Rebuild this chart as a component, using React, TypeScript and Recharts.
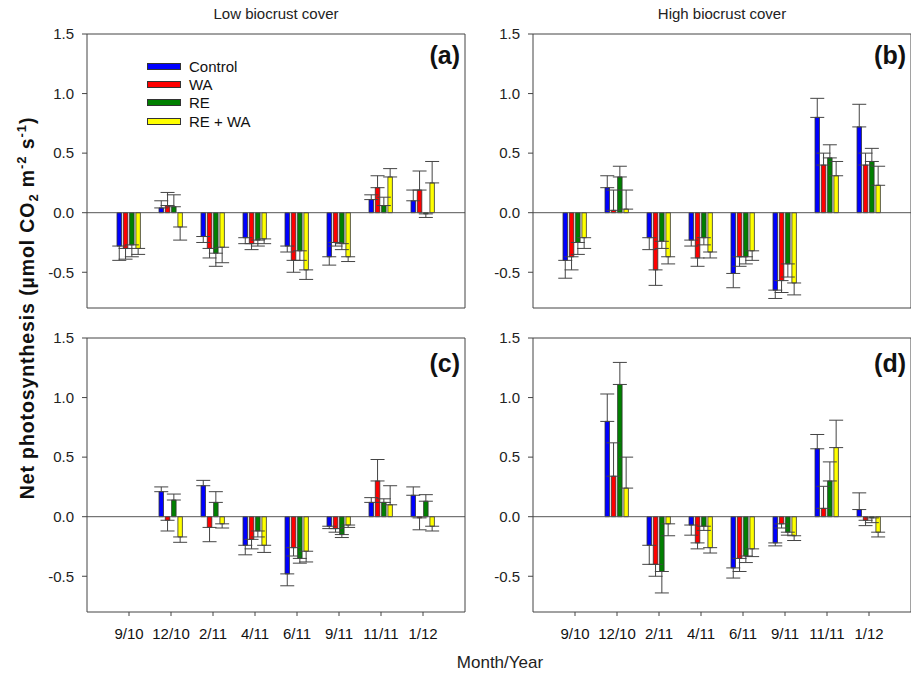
import { BarChart, Bar, XAxis, YAxis, ErrorBar, ReferenceLine, Legend } from 'recharts';

const months = ['9/10', '12/10', '2/11', '4/11', '6/11', '9/11', '11/11', '1/12'];
const yTicks = [-0.5, 0, 0.5, 1.0, 1.5];

// (a) low biocrust cover, top row
const aControl = [-0.28, 0.04, -0.20, -0.21, -0.28, -0.37, 0.11, 0.10];
const aControlSe = [0.12, 0.06, 0.05, 0.05, 0.05, 0.07, 0.04, 0.09];
const aWa = [-0.30, 0.06, -0.30, -0.26, -0.40, -0.25, 0.21, 0.19];
const aWaSe = [0.09, 0.11, 0.08, 0.05, 0.10, 0.03, 0.10, 0.16];
const aRe = [-0.27, 0.05, -0.34, -0.23, -0.32, -0.26, 0.06, -0.01];
const aReSe = [0.10, 0.10, 0.11, 0.05, 0.08, 0.05, 0.07, 0.03];
const aReWa = [-0.30, -0.12, -0.29, -0.22, -0.48, -0.37, 0.30, 0.25];
const aReWaSe = [0.05, 0.11, 0.13, 0.04, 0.08, 0.04, 0.07, 0.18];

// (b) high biocrust cover, top row
const bControl = [-0.40, 0.21, -0.21, -0.23, -0.51, -0.65, 0.80, 0.72];
const bControlSe = [0.15, 0.10, 0.10, 0.05, 0.12, 0.07, 0.16, 0.19];
const bWa = [-0.37, 0.02, -0.48, -0.38, -0.37, -0.57, 0.40, 0.40];
const bWaSe = [0.11, 0.17, 0.13, 0.07, 0.08, 0.10, 0.10, 0.10];
const bRe = [-0.25, 0.30, -0.24, -0.21, -0.37, -0.43, 0.46, 0.43];
const bReSe = [0.10, 0.09, 0.06, 0.06, 0.06, 0.11, 0.11, 0.11];
const bReWa = [-0.21, 0.03, -0.37, -0.33, -0.32, -0.59, 0.31, 0.23];
const bReWaSe = [0.09, 0.16, 0.06, 0.05, 0.08, 0.10, 0.12, 0.16];

// (c) low biocrust cover, bottom row (no data for 9/10)
const cControl = [null, 0.21, 0.26, -0.24, -0.48, -0.08, 0.12, 0.18];
const cControlSe = [null, 0.04, 0.045, 0.08, 0.10, 0.02, 0.04, 0.07];
const cWa = [null, -0.03, -0.09, -0.19, -0.26, -0.10, 0.30, -0.01];
const cWaSe = [null, 0.09, 0.12, 0.08, 0.07, 0.03, 0.18, 0.10];
const cRe = [null, 0.14, 0.12, -0.12, -0.35, -0.15, 0.12, 0.13];
const cReSe = [null, 0.05, 0.09, 0.05, 0.04, 0.025, 0.03, 0.055];
const cReWa = [null, -0.17, -0.06, -0.24, -0.29, -0.07, 0.10, -0.08];
const cReWaSe = [null, 0.045, 0.035, 0.06, 0.09, 0.02, 0.16, 0.04];

// (d) high biocrust cover, bottom row
const dControl = [null, 0.80, -0.24, -0.07, -0.43, -0.22, 0.57, 0.06];
const dControlSe = [null, 0.23, 0.16, 0.085, 0.085, 0.025, 0.12, 0.14];
const dWa = [null, 0.34, -0.40, -0.22, -0.35, -0.06, 0.07, -0.03];
const dWaSe = [null, 0.28, 0.10, 0.05, 0.11, 0.035, 0.185, 0.045];
const dRe = [null, 1.11, -0.46, -0.08, -0.33, -0.13, 0.30, -0.01];
const dReSe = [null, 0.185, 0.18, 0.035, 0.055, 0.025, 0.16, 0.04];
const dReWa = [null, 0.24, -0.06, -0.26, -0.27, -0.16, 0.58, -0.13];
const dReWaSe = [null, 0.26, 0.10, 0.045, 0.065, 0.04, 0.23, 0.04];

const SERIES = [
  { key: 'control', name: 'Control', color: '#0000ff' },
  { key: 'wa', name: 'WA', color: '#ff0000' },
  { key: 're', name: 'RE', color: '#008000' },
  { key: 'rewa', name: 'RE + WA', color: '#ffff00' },
];

const FONT = '"Liberation Sans", Arial, sans-serif';
const AXIS = '#444';

type Num = number | null;

// error bars only go outward from the bar end
function rows(vals: Num[][], errs: Num[][]) {
  return months.map((m, i) => {
    const row: any = { month: m };
    SERIES.forEach((s, k) => {
      const v = vals[k][i];
      const e = errs[k][i];
      row[s.key] = v;
      row[s.key + 'Se'] = v == null || e == null ? null : v >= 0 ? [0, e] : [e, 0];
    });
    return row;
  });
}

const LegendBox = () => (
  <div style={{ fontFamily: FONT, fontSize: 15, color: '#111' }}>
    {SERIES.map(s => (
      <div key={s.key} style={{ display: 'flex', alignItems: 'center', height: 18.3 }}>
        <span style={{ display: 'inline-block', width: 32, height: 5, background: s.color, border: '1px solid #333', marginRight: 8 }} />
        <span>{s.name}</span>
      </div>
    ))}
  </div>
);

function Panel({ data, left, top, tag, tagTop, labels, legend }: any) {
  return (
    <div style={{ position: 'absolute', left, top, width: 448, height: 319 }}>
      <BarChart width={448} height={319} data={data} margin={{ top: 9, right: 9, bottom: 0, left: 0 }} barSize={4.5} barGap={1.8}>
        <XAxis
          dataKey="month"
          height={35}
          padding={{ left: 21, right: 21 }}
          axisLine={{ stroke: AXIS }}
          tickLine={{ stroke: AXIS }}
          tickSize={4}
          tickMargin={12}
          tick={labels ? { fill: '#111', fontSize: 15, fontFamily: FONT } : false}
          interval={0}
        />
        <XAxis xAxisId="top" dataKey="month" orientation="top" height={1} tick={false} tickLine={false} axisLine={{ stroke: AXIS }} />
        <YAxis
          width={60}
          domain={[-0.8, 1.5]}
          ticks={yTicks}
          allowDataOverflow
          axisLine={{ stroke: AXIS }}
          tickLine={{ stroke: AXIS }}
          tickSize={5}
          tickMargin={8}
          tickFormatter={(v: number) => v.toFixed(1)}
          tick={{ fill: '#222', fontSize: 15, fontFamily: FONT }}
        />
        <YAxis yAxisId="right" orientation="right" width={1} domain={[-0.8, 1.5]} tick={false} tickLine={false} axisLine={{ stroke: AXIS }} />
        <ReferenceLine y={0} stroke="#555" />
        {legend && (
          <Legend
            layout="vertical"
            align="center"
            verticalAlign="middle"
            content={() => <LegendBox />}
            wrapperStyle={{ left: 120, top: 33, width: 120, height: 80 }}
          />
        )}
        {SERIES.map(s => (
          <Bar key={s.key} dataKey={s.key} name={s.name} fill={s.color} stroke="#333" strokeWidth={0.8} isAnimationActive={false}>
            <ErrorBar dataKey={s.key + 'Se'} width={7} stroke="#444" strokeWidth={1} direction="y" />
          </Bar>
        ))}
      </BarChart>
      <div style={{ position: 'absolute', left: 0, width: 433, top: tagTop, textAlign: 'right', fontFamily: FONT, fontWeight: 'bold', fontSize: 25, lineHeight: '25px', color: '#111' }}>
        {tag}
      </div>
    </div>
  );
}

export default function App() {
  return (
    <div style={{ position: 'absolute', left: 0, top: 0, width: 911, height: 679, overflow: 'hidden', background: '#fff', fontFamily: FONT }}>
      <div style={{ position: 'absolute', left: 87, width: 378, top: 5, textAlign: 'center', fontSize: 15, color: '#222' }}>Low biocrust cover</div>
      <div style={{ position: 'absolute', left: 533, width: 378, top: 5, textAlign: 'center', fontSize: 15, color: '#222' }}>High biocrust cover</div>
      <Panel data={rows([aControl, aWa, aRe, aReWa], [aControlSe, aWaSe, aReSe, aReWaSe])} left={27} top={24} tag="(a)" tagTop={19} legend />
      <Panel data={rows([bControl, bWa, bRe, bReWa], [bControlSe, bWaSe, bReSe, bReWaSe])} left={473} top={24} tag="(b)" tagTop={19} />
      <Panel data={rows([cControl, cWa, cRe, cReWa], [cControlSe, cWaSe, cReSe, cReWaSe])} left={27} top={328} tag="(c)" tagTop={23} labels />
      <Panel data={rows([dControl, dWa, dRe, dReWa], [dControlSe, dWaSe, dReSe, dReWaSe])} left={473} top={328} tag="(d)" tagTop={23} labels />
      <div
        style={{
          position: 'absolute', left: 22 - 230, top: 308 - 12, width: 460, height: 24, textAlign: 'center',
          transform: 'rotate(-90deg)', fontWeight: 'bold', fontSize: 19.5, letterSpacing: 0.9, lineHeight: '24px', color: '#111', whiteSpace: 'nowrap',
        }}
      >
        Net photosynthesis (µmol CO<sub style={{ fontSize: 13 }}>2</sub> m<sup style={{ fontSize: 13 }}>-2</sup> s<sup style={{ fontSize: 13 }}>-1</sup>)
      </div>
      <div style={{ position: 'absolute', left: 400, width: 200, top: 653, textAlign: 'center', fontSize: 17, color: '#222' }}>Month/Year</div>
    </div>
  );
}
